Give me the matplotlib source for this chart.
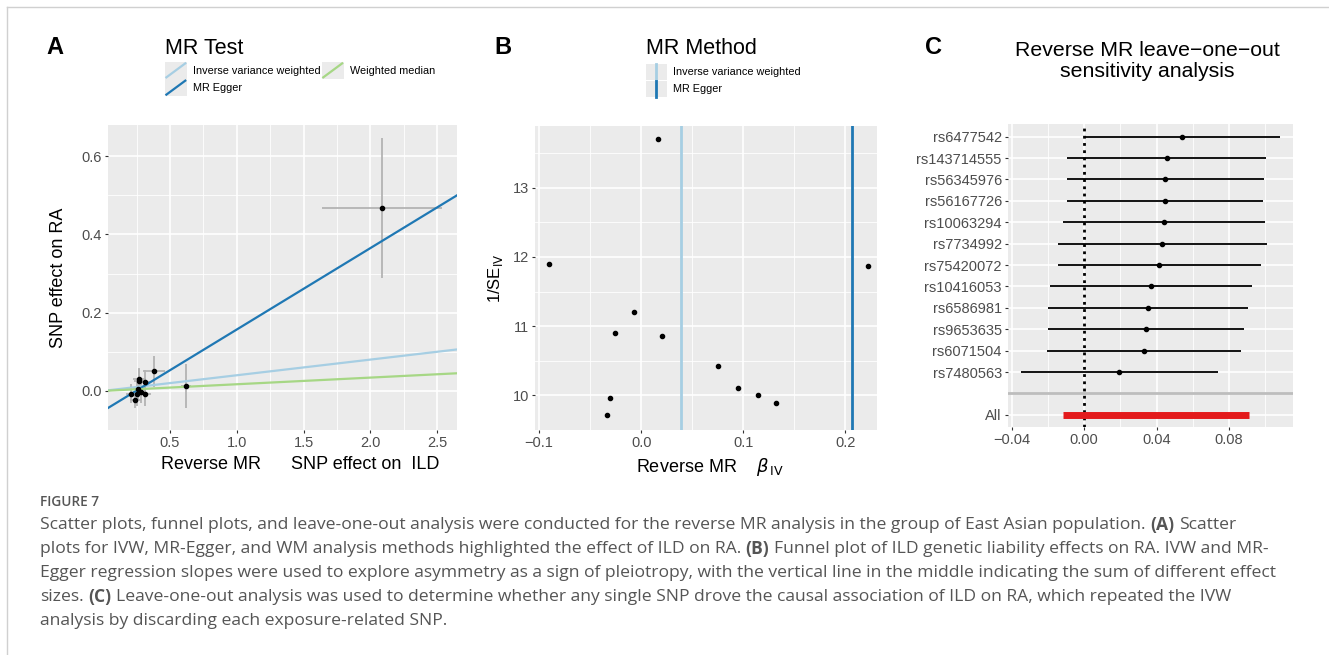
import matplotlib
matplotlib.use('Agg')
import matplotlib.pyplot as plt
import numpy as np
from matplotlib.lines import Line2D
from matplotlib.patches import Rectangle
from matplotlib.legend_handler import HandlerBase

plt.rcParams['font.family'] = ['Liberation Sans', 'DejaVu Sans']

# ---- data ----
# A: SNP effects (exposure ILD, outcome RA)
snp_bx = [2.09, 0.62, 0.38, 0.27, 0.27, 0.31, 0.31, 0.24, 0.25, 0.21, 0.28, 0.26]
snp_by = [0.468, 0.012, 0.050, 0.031, 0.026, 0.023, -0.008, -0.022, -0.008, -0.007, -0.002, 0.004]
snp_se_x = [0.45, 0.04, 0.08, 0.05, 0.04, 0.05, 0.05, 0.04, 0.05, 0.04, 0.04, 0.04]
snp_se_y = [0.178, 0.057, 0.040, 0.028, 0.030, 0.030, 0.030, 0.022, 0.030, 0.025, 0.030, 0.028]
methods = ['Inverse variance weighted', 'MR Egger', 'Weighted median']
method_slope = [0.040, 0.208, 0.017]
method_icept = [0.0, -0.051, 0.0]
method_color = ['#a6cee3', '#1f78b4', '#a6d785']

# B: funnel plot
beta_iv = [-0.090, -0.033, -0.031, -0.026, -0.007, 0.016, 0.020, 0.075, 0.095, 0.114, 0.132, 0.222]
inv_se = [11.90, 9.72, 9.96, 10.90, 11.20, 13.70, 10.86, 10.43, 10.11, 10.00, 9.89, 11.87]
funnel_methods = ['Inverse variance weighted', 'MR Egger']
funnel_beta = [0.039, 0.207]

# C: leave-one-out
loo_snp = ['rs6477542', 'rs143714555', 'rs56345976', 'rs56167726', 'rs10063294', 'rs7734992',
           'rs75420072', 'rs10416053', 'rs6586981', 'rs9653635', 'rs6071504', 'rs7480563']
loo_est = [0.0539, 0.0456, 0.0449, 0.0447, 0.0442, 0.0432, 0.0414, 0.0368, 0.0355, 0.0340, 0.0329, 0.0195]
loo_lo = [0.0000, -0.0092, -0.0096, -0.0096, -0.0114, -0.0142, -0.0145, -0.0188, -0.0197, -0.0200, -0.0206, -0.0348]
loo_hi = [0.1080, 0.1004, 0.0993, 0.0990, 0.0999, 0.1008, 0.0975, 0.0925, 0.0905, 0.0883, 0.0865, 0.0741]
all_lo, all_hi = -0.0118, 0.0912

W, H = 1329, 655
fig = plt.figure(figsize=(W / 100, H / 100), dpi=100)

BG = '#ebebeb'
TXT = '#4d4d4d'
TICKFS = 10.5
LABFS = 13


def box(l, t, r, b):
    return [l / W, 1 - b / H, (r - l) / W, (b - t) / H]


def gg(ax):
    ax.set_facecolor(BG)
    for s in ax.spines.values():
        s.set_visible(False)
    ax.grid(which='major', color='white', lw=1.2)
    ax.grid(which='minor', color='white', lw=0.6)
    ax.set_axisbelow(True)
    ax.tick_params(which='major', length=2.5, width=0.8, color='#333333',
                   labelcolor=TXT, labelsize=TICKFS, pad=2)
    ax.tick_params(which='minor', length=0)


class KeyHandler(HandlerBase):
    def __init__(self, vertical=False):
        super().__init__()
        self.vertical = vertical

    def create_artists(self, legend, orig, xd, yd, w, h, fs, trans):
        bg = Rectangle((-xd, -yd), w, h, facecolor=BG, edgecolor='none', transform=trans)
        if self.vertical:
            ln = Line2D([-xd + w / 2] * 2, [-yd, -yd + h], transform=trans)
        else:
            ln = Line2D([-xd + 1, -xd + w - 1], [-yd + 1, -yd + h - 1], transform=trans)
        ln.set_color(orig.get_color())
        ln.set_linewidth(orig.get_linewidth())
        return [bg, ln]


# ---- A: scatter ----
axA = fig.add_axes(box(108, 125, 457, 430))
gg(axA)
axA.errorbar(snp_bx, snp_by, xerr=snp_se_x, yerr=snp_se_y, fmt='none',
             ecolor='#b3b3b3', elinewidth=1.3, zorder=2)
axA.set_xlim(0.035, 2.65)
axA.set_ylim(-0.082, 0.68)
xs = np.array(axA.get_xlim())
hA = []
for name, b, a, c in zip(methods, method_slope, method_icept, method_color):
    ln, = axA.plot(xs, a + b * xs, color=c, lw=1.6, zorder=3, label=name)
    hA.append(ln)
axA.scatter(snp_bx, snp_by, s=9, color='black', zorder=4)
axA.set_xticks([0.5, 1.0, 1.5, 2.0, 2.5])
axA.set_xticks([0.25, 0.75, 1.25, 1.75, 2.25], minor=True)
axA.set_yticks([0.0, 0.2, 0.4, 0.6])
axA.set_yticks([-0.1, 0.1, 0.3, 0.5], minor=True)
axA.set_xticklabels(['0.5', '1.0', '1.5', '2.0', '2.5'])
axA.set_yticklabels(['0.0', '0.2', '0.4', '0.6'])
axA.set_ylabel('SNP effect on RA', fontsize=LABFS, labelpad=10)
axA.set_xlabel('Reverse MR      SNP effect on  ILD', fontsize=LABFS)
axA.xaxis.set_label_coords(0.55, -0.085)

legA = fig.legend([hA[0], hA[1], hA[2]], [methods[0], methods[1], methods[2]],
                  loc='upper left', bbox_to_anchor=(165 / W, 1 - 62 / H), ncol=2,
                  frameon=False, fontsize=7.8, borderpad=0, borderaxespad=0,
                  handlelength=2.0, handleheight=2.0, labelspacing=0.05,
                  handletextpad=0.6, columnspacing=0.1,
                  handler_map={Line2D: KeyHandler()})

# ---- B: funnel ----
axB = fig.add_axes(box(535, 126, 877, 430))
gg(axB)
axB.scatter(beta_iv, inv_se, s=9, color='black', zorder=4)
hB = []
for name, b, c in zip(funnel_methods, funnel_beta, method_color[:2]):
    hB.append(axB.axvline(b, color=c, lw=2, zorder=3, label=name))
axB.set_xlim(-0.104, 0.231)
axB.set_ylim(9.51, 13.89)
axB.set_xticks([-0.1, 0.0, 0.1, 0.2])
axB.set_xticks([-0.05, 0.05, 0.15], minor=True)
axB.set_xticklabels(['\u22120.1', '0.0', '0.1', '0.2'])
axB.set_yticks([10, 11, 12, 13])
axB.set_yticks([9.5, 10.5, 11.5, 12.5, 13.5], minor=True)
axB.set_ylabel(r'1/SE$_{\mathrm{IV}}$', fontsize=LABFS - 1, labelpad=5)
axB.set_xlabel(r'Reverse MR    $\beta_{\,\mathrm{IV}}$', fontsize=LABFS)
axB.xaxis.set_label_coords(0.51, -0.085)

legB = fig.legend(hB, funnel_methods, loc='upper left',
                  bbox_to_anchor=(646 / W, 1 - 64 / H), ncol=1, frameon=False,
                  fontsize=7.8, borderpad=0, borderaxespad=0, handlelength=1.9,
                  handleheight=1.9, labelspacing=0.05, handletextpad=0.6,
                  handler_map={Line2D: KeyHandler(vertical=True)})

# ---- C: leave-one-out ----
axC = fig.add_axes(box(1008, 124, 1293, 427))
gg(axC)
rows = np.arange(len(loo_snp))
all_row = len(loo_snp) + 1
axC.hlines(rows, loo_lo, loo_hi, color='black', lw=1.3, zorder=3)
axC.scatter(loo_est, rows, s=9, color='black', zorder=4)
axC.hlines([all_row], [all_lo], [all_hi], color='#e31a1c', lw=5, zorder=3)
axC.axhline(len(loo_snp), color='#bdbdbd', lw=2, zorder=2)
axC.axvline(0, color='black', lw=2, ls=(0, (1, 1.6)), zorder=2)
axC.set_yticks(list(rows) + [all_row])
axC.set_yticklabels(loo_snp + ['All'])
axC.set_ylim(all_row + 0.57, -0.59)
axC.set_xlim(-0.042, 0.1153)
axC.set_xticks([-0.04, 0.0, 0.04, 0.08])
axC.set_xticks([-0.02, 0.02, 0.06, 0.10], minor=True)
axC.set_xticklabels(['\u22120.04', '0.00', '0.04', '0.08'])
axC.grid(which='minor', axis='y', visible=False)

# ---- titles and panel letters ----
fig.text(55 / W, 1 - 48 / H, 'A', fontsize=17, fontweight='bold', ha='center', va='center')
fig.text(503 / W, 1 - 48 / H, 'B', fontsize=17, fontweight='bold', ha='center', va='center')
fig.text(933 / W, 1 - 48 / H, 'C', fontsize=17, fontweight='bold', ha='center', va='center')
fig.text(165 / W, 1 - 48 / H, 'MR Test', fontsize=15.5, ha='left', va='center')
fig.text(646 / W, 1 - 48 / H, 'MR Method', fontsize=15.5, ha='left', va='center')
fig.text(1147 / W, 1 - 61 / H, 'Reverse MR leave\u2212one\u2212out\nsensitivity analysis',
         fontsize=15.3, ha='center', va='center', linespacing=1.1)

# ---- page frame ----
fig.add_artist(Line2D([7 / W, 1], [1 - 7 / H] * 2, color='#d0d0d0', lw=1))
fig.add_artist(Line2D([7 / W] * 2, [0, 1 - 7 / H], color='#d0d0d0', lw=1))

# ---- caption ----
CAP = '#555555'
CAPFONT = ['Open Sans', 'DejaVu Sans']
CAPFS = 12.6
fig.text(40 / W, 1 - 502 / H, 'FIGURE 7', fontsize=9.8, fontweight='semibold',
         color=CAP, family=CAPFONT, va='center')

cap_lines = [
    [('Scatter plots, funnel plots, and leave-one-out analysis were conducted for the reverse MR '
      'analysis in the group of East Asian population.', 'normal'), ('(A)', 'bold'), ('Scatter', 'normal')],
    [('plots for IVW, MR-Egger, and WM analysis methods highlighted the effect of ILD on RA.', 'normal'),
     ('(B)', 'bold'), ('Funnel plot of ILD genetic liability effects on RA. IVW and MR-', 'normal')],
    [('Egger regression slopes were used to explore asymmetry as a sign of pleiotropy, with the '
      'vertical line in the middle indicating the sum of different effect', 'normal')],
    [('sizes.', 'normal'), ('(C)', 'bold'),
     ('Leave-one-out analysis was used to determine whether any single SNP drove the causal '
      'association of ILD on RA, which repeated the IVW', 'normal')],
    [('analysis by discarding each exposure-related SNP.', 'normal')],
]
cap_y = [525, 549, 573, 597, 621]

r = fig.canvas.get_renderer()


def twidth(s, weight):
    t = fig.text(0, 0, s, fontsize=CAPFS, family=CAPFONT, fontweight=weight)
    w = t.get_window_extent(renderer=r).width
    t.remove()
    return w


space = twidth('a a', 'normal') - twidth('aa', 'normal')
for parts, y in zip(cap_lines, cap_y):
    x = 40
    for s, wgt in parts:
        t = fig.text(x / W, 1 - y / H, s, fontsize=CAPFS, family=CAPFONT, fontweight=wgt,
                     color=CAP, va='center')
        x += t.get_window_extent(renderer=r).width + space

fig.savefig('out.png', dpi=100)
